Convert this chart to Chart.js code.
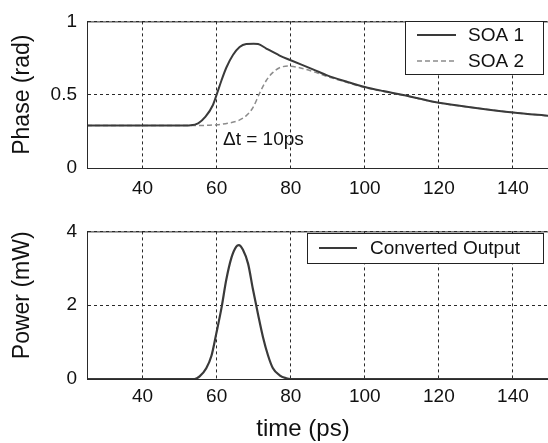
<!DOCTYPE html>
<html><head><meta charset="utf-8">
<script src="https://cdn.jsdelivr.net/npm/chart.js@4.4.1/dist/chart.umd.min.js"></script>
<style>
html,body{margin:0;padding:0;background:#fff;overflow:hidden;width:548px;height:443px;}
#wrap{position:relative;width:548px;height:443px;overflow:hidden;background:#fff;}
canvas{position:absolute;left:0;}
#c1{top:0px}
#c2{top:210px}
</style></head><body>
<div id="wrap"><canvas id="c1" width="560" height="210"></canvas><canvas id="c2" width="560" height="233"></canvas></div>
<script>
// ---- data ----
const xTicks = [40, 60, 80, 100, 120, 140];
const phaseTicks = [0, 0.5, 1];
const powerTicks = [0, 2, 4];

const soa1Time  = [25, 40, 50, 53, 55, 57, 59, 60, 61.3, 62.6, 64.4, 66.2, 68, 70, 71.2, 73.4, 77, 80, 86, 90, 95, 100, 105, 110, 120, 130, 140, 150];
const soa1Phase = [0.29, 0.29, 0.29, 0.292, 0.305, 0.35, 0.43, 0.50, 0.597, 0.684, 0.771, 0.826, 0.846, 0.848, 0.846, 0.815, 0.767, 0.735, 0.673, 0.63, 0.59, 0.553, 0.525, 0.50, 0.445, 0.41, 0.379, 0.355];

const soa2Time  = [25, 40, 55, 60, 63, 66, 68, 69.8, 71.6, 73.4, 75.2, 77, 79.3, 82.4, 86, 90.5, 95, 100, 105, 110, 120, 130, 140, 150];
const soa2Phase = [0.29, 0.29, 0.29, 0.295, 0.305, 0.325, 0.357, 0.412, 0.51, 0.597, 0.652, 0.684, 0.695, 0.684, 0.658, 0.619, 0.585, 0.549, 0.522, 0.498, 0.444, 0.41, 0.379, 0.355];

const outTime  = [25, 50, 54, 55.4, 57.2, 58.6, 59.9, 61.3, 62.6, 64, 65.3, 66, 67.1, 68.5, 69.8, 71.2, 72.5, 73.9, 75.2, 77, 78.8, 80, 100, 150];
const outPower = [0, 0, 0, 0.07, 0.29, 0.63, 1.23, 1.92, 2.69, 3.29, 3.59, 3.63, 3.5, 3.12, 2.43, 1.74, 1.14, 0.63, 0.29, 0.1, 0.02, 0, 0, 0];

const seriesLabels = ['SOA 1', 'SOA 2', 'Converted Output'];
const axisTitles = {phase: 'Phase (rad)', power: 'Power (mW)', time: 'time (ps)'};
const annotationText = '\u0394t = 10ps';

// ---- helpers ----
const FONT = '"Liberation Sans", Arial, Helvetica, sans-serif';
const pts = (xs, ys) => xs.map((x, i) => ({x: x, y: ys[i]}));
const GRID = '#2a2a2a';

const framePlugin = {
  id: 'frame',
  afterDraw(chart) {
    const {ctx, chartArea: a} = chart;
    ctx.save();
    ctx.strokeStyle = GRID; ctx.lineWidth = 1; ctx.setLineDash([]);
    ctx.beginPath();
    ctx.moveTo(a.left + 0.5, a.bottom + 0.5); ctx.lineTo(a.left + 0.5, a.top + 0.5);
    ctx.lineTo(a.right, a.top + 0.5);
    ctx.moveTo(a.left, a.bottom + 0.5); ctx.lineTo(a.right, a.bottom + 0.5);
    ctx.stroke();
    ctx.restore();
  }
};

const boxLegendPlugin = {
  id: 'boxLegend',
  afterDraw(chart, args, o) {
    if (!o || !o.box) return;
    const ctx = chart.ctx;
    ctx.save();
    ctx.fillStyle = '#fff';
    ctx.fillRect(o.box[0], o.box[1], o.box[2], o.box[3]);
    ctx.strokeStyle = '#222'; ctx.lineWidth = 1; ctx.setLineDash([]);
    ctx.strokeRect(o.box[0] + 0.5, o.box[1] + 0.5, o.box[2], o.box[3]);
    chart.data.datasets.forEach((ds, i) => {
      const y = o.rowY[i];
      ctx.strokeStyle = ds.borderColor; ctx.lineWidth = ds.borderWidth;
      ctx.setLineDash(ds.borderDash || []);
      ctx.beginPath(); ctx.moveTo(o.sx1, y); ctx.lineTo(o.sx2, y); ctx.stroke();
      ctx.setLineDash([]);
      ctx.fillStyle = '#111'; ctx.font = '19px ' + FONT;
      ctx.textAlign = 'left'; ctx.textBaseline = 'middle';
      ctx.fillText(ds.label, o.tx, y + 1);
    });
    ctx.restore();
  }
};

const textPlugin = {
  id: 'texts',
  afterDraw(chart, args, o) {
    if (!o || !o.items) return;
    const ctx = chart.ctx;
    ctx.save();
    o.items.forEach(it => {
      ctx.fillStyle = '#111'; ctx.font = it.font;
      ctx.textAlign = it.align; ctx.textBaseline = 'middle';
      ctx.fillText(it.text, it.x, it.y);
    });
    ctx.restore();
  }
};

function xScale(height, pad) {
  return {
    type: 'linear', min: 25, max: 150,
    afterBuildTicks: s => { s.ticks = xTicks.map(v => ({value: v})); },
    afterFit: s => { s.height = height; },
    ticks: {color: '#111', font: {size: 19, family: FONT}, padding: pad, maxRotation: 0, autoSkip: false},
    grid: {color: GRID, lineWidth: 1, drawTicks: false},
    border: {color: GRID, width: 1, dash: [3, 3]}
  };
}
function yScale(min, max, tickList, title, align) {
  return {
    type: 'linear', min: min, max: max,
    afterBuildTicks: s => { s.ticks = tickList.map(v => ({value: v})); },
    afterFit: s => { s.width = 87; },
    ticks: {color: '#111', font: {size: 19, family: FONT}, padding: 10, callback: v => String(v)},
    grid: {color: GRID, lineWidth: 1, drawTicks: false},
    border: {color: GRID, width: 1, dash: [3, 3]},
    title: {display: true, text: title, align: align, color: '#111', font: {size: 23, family: FONT}, padding: {top: 9, bottom: 0}}
  };
}

const common = {
  responsive: false, animation: false, devicePixelRatio: 1,
  plugins: {legend: {display: false}, tooltip: {enabled: false}},
  elements: {point: {radius: 0}, line: {cubicInterpolationMode: 'monotone'}}
};

new Chart(document.getElementById('c1'), {
  type: 'line',
  data: {datasets: [
    {label: seriesLabels[0], data: pts(soa1Time, soa1Phase), borderColor: '#3a3a3a', borderWidth: 2, fill: false},
    {label: seriesLabels[1], data: pts(soa2Time, soa2Phase), borderColor: '#8c8c8c', borderWidth: 1.5, borderDash: [5, 3], fill: false}
  ]},
  options: Object.assign({}, common, {
    layout: {padding: {top: 15, right: 10, left: 0, bottom: 0}},
    scales: {x: xScale(42, 9), y: yScale(0, 1, phaseTicks, axisTitles.phase, 'center')},
    plugins: {
      legend: {display: false}, tooltip: {enabled: false},
      boxLegend: {box: [405, 21, 138, 53], rowY: [35, 61], sx1: 417, sx2: 456, tx: 468},
      texts: {items: [{text: annotationText, x: 223, y: 140, font: '19px ' + FONT, align: 'left'}]}
    }
  }),
  plugins: [framePlugin, boxLegendPlugin, textPlugin]
});

new Chart(document.getElementById('c2'), {
  type: 'line',
  data: {datasets: [
    {label: seriesLabels[2], data: pts(outTime, outPower), borderColor: '#3a3a3a', borderWidth: 2.2, fill: false}
  ]},
  options: Object.assign({}, common, {
    layout: {padding: {top: 15, right: 10, left: 0, bottom: 0}},
    scales: {x: xScale(64, 6), y: yScale(0, 4, powerTicks, axisTitles.power, 'end')},
    plugins: {
      legend: {display: false}, tooltip: {enabled: false},
      boxLegend: {box: [307, 23, 236, 30], rowY: [38], sx1: 319, sx2: 357, tx: 370},
      texts: {items: [{text: axisTitles.time, x: 303, y: 219, font: '24px ' + FONT, align: 'center'}]}
    }
  }),
  plugins: [framePlugin, boxLegendPlugin, textPlugin]
});
</script>
</body></html>
